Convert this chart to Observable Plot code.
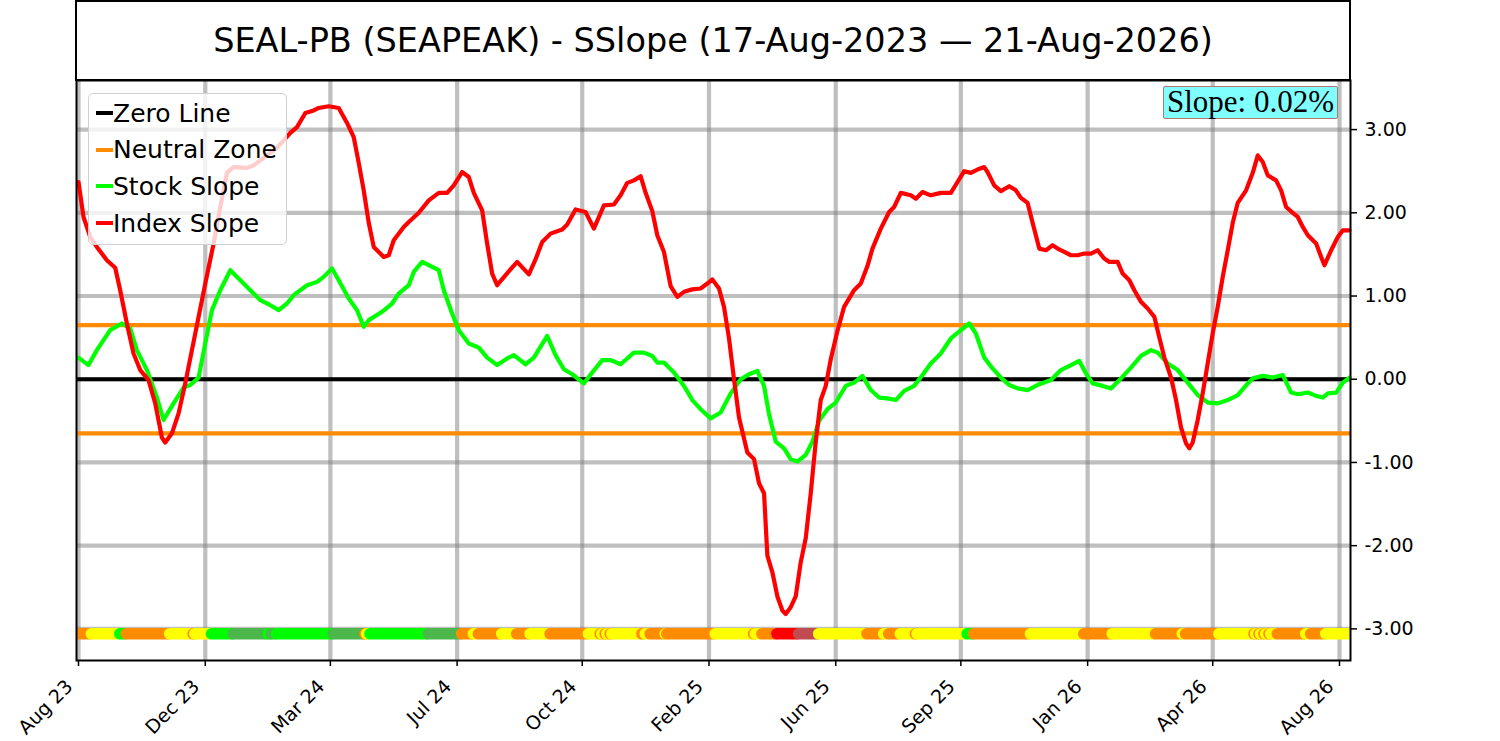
<!DOCTYPE html>
<html>
<head>
<meta charset="utf-8">
<script src="https://cdn.jsdelivr.net/npm/d3@7"></script>
<script src="https://cdn.jsdelivr.net/npm/@observablehq/plot@0.6"></script>
<style>
  html, body { margin: 0; padding: 0; background: #fff; }
  #wrap { position: relative; width: 1500px; height: 741px; overflow: hidden; font-family: "DejaVu Sans", sans-serif; }
  #title { position: absolute; left: 75px; top: 0; width: 1276px; height: 81px; box-sizing: border-box;
           border: 2px solid #000; display: flex; align-items: center; justify-content: center;
           font-size: 33.5px; color: #000; background: #fff; }
  #chart { position: absolute; left: 0; top: 80px; }
  #legend { position: absolute; left: 88px; top: 93px; width: 199px; height: 152px; box-sizing: border-box;
            border: 1.5px solid #d0d0d0; border-radius: 5px; background: rgba(255,255,255,0.8); }
  .row { position: absolute; left: 7px; height: 30px; display: flex; align-items: center; font-size: 25px; color: #000; white-space: nowrap; }
  .sw { width: 17px; height: 4px; }
  #slope { position: absolute; left: 1163px; top: 86px; width: 175px; height: 33px; box-sizing: border-box;
           background: #80ffff; border: 1.5px solid #b07676; border-radius: 2px;
           font-family: "Liberation Serif", serif; font-size: 31px; line-height: 29px; text-align: center; color: #000; white-space: nowrap; }
</style>
</head>
<body>
<div id="wrap">
  <div id="chart"></div>
  <div id="title">SEAL-PB (SEAPEAK) - SSlope (17-Aug-2023 — 21-Aug-2026)</div>
  <div id="legend"></div>
  <div id="slope">Slope: 0.02%</div>
</div>
<script>
// ---- x axis ticks (trading-day index) ----
const tickIdx = [0, 76, 151, 227, 302, 378, 454, 529, 605, 680, 756];
const tickLabels = ["Aug 23", "Dec 23", "Mar 24", "Jul 24", "Oct 24", "Feb 25", "Jun 25", "Sep 25", "Jan 26", "Apr 26", "Aug 26"];
const yTicks = [-3, -2, -1, 0, 1, 2, 3];

// ---- reference lines ----
const zeroLine = 0;
const neutralZone = [0.65, -0.65];

// ---- Index Slope (red) ----
const redIdx = [0,3,7,11,17,22,25,29,33,37,42,46,50,52,56,60,64,68,72,76,81,85,89,93,101,105,111,119,127,131,136,141,144,150,156,161,165,168,171,174,177,183,186,189,195,198,204,210,216,221,225,230,234,237,242,245,248,251,253,259,263,270,274,278,283,290,293,298,304,309,315,321,325,329,333,337,340,344,347,351,355,359,363,368,373,377,380,384,387,390,393,396,401,405,408,411,413,416,419,422,424,427,430,433,436,439,442,445,448,451,455,459,465,469,473,476,481,486,489,493,499,502,506,511,517,523,527,531,535,539,543,545,549,553,558,562,565,569,572,576,580,584,587,591,595,599,603,607,611,615,618,623,626,630,633,637,641,645,648,651,655,658,661,664,666,668,671,674,677,680,683,686,689,692,695,700,704,707,710,713,718,721,724,728,731,734,737,742,745,747,751,755,758,762];
const redVal = [2.37,1.95,1.71,1.59,1.43,1.34,1.07,0.67,0.31,0.11,-0.01,-0.29,-0.70,-0.76,-0.65,-0.41,-0.05,0.35,0.75,1.15,1.63,2.07,2.48,2.55,2.54,2.57,2.66,2.78,2.96,3.03,3.20,3.23,3.26,3.28,3.26,3.08,2.91,2.60,2.27,1.88,1.59,1.47,1.49,1.67,1.83,1.89,2.00,2.15,2.24,2.24,2.33,2.49,2.43,2.24,2.03,1.63,1.27,1.13,1.18,1.32,1.41,1.26,1.44,1.65,1.75,1.80,1.86,2.04,2.01,1.81,2.09,2.10,2.21,2.36,2.39,2.44,2.24,2.02,1.73,1.53,1.12,0.99,1.05,1.08,1.09,1.15,1.20,1.09,0.87,0.49,0.00,-0.46,-0.88,-0.96,-1.25,-1.37,-2.12,-2.32,-2.61,-2.78,-2.82,-2.74,-2.61,-2.20,-1.91,-1.37,-0.75,-0.25,-0.08,0.24,0.58,0.87,1.07,1.15,1.36,1.57,1.81,2.01,2.07,2.24,2.21,2.17,2.25,2.21,2.24,2.24,2.37,2.50,2.48,2.52,2.55,2.49,2.33,2.26,2.32,2.27,2.18,2.12,1.88,1.57,1.55,1.61,1.57,1.53,1.49,1.49,1.51,1.51,1.55,1.45,1.41,1.41,1.27,1.19,1.07,0.93,0.85,0.75,0.50,0.26,0.02,-0.25,-0.58,-0.77,-0.83,-0.76,-0.49,-0.17,0.19,0.55,0.87,1.23,1.55,1.88,2.12,2.27,2.48,2.69,2.61,2.45,2.39,2.27,2.07,2.00,1.95,1.83,1.73,1.63,1.47,1.37,1.55,1.71,1.79,1.79];

// ---- Stock Slope (green) ----
const greenIdx = [0,6,11,19,26,31,35,41,47,51,57,63,67,72,76,80,85,91,97,103,109,115,120,125,129,137,143,147,152,156,162,167,171,174,182,188,192,198,201,206,210,216,219,224,228,234,240,245,251,257,261,268,273,281,286,291,296,303,308,314,319,325,333,339,344,347,351,357,363,368,373,379,385,391,397,402,407,411,414,418,423,427,431,436,440,444,449,454,460,465,470,475,480,485,490,495,501,506,511,517,523,529,534,538,543,548,553,558,563,569,576,583,589,595,600,604,608,614,619,625,631,637,643,647,653,659,665,671,677,683,689,695,701,704,710,716,722,727,731,737,742,746,749,754,758,762];
const greenVal = [0.26,0.17,0.35,0.59,0.67,0.61,0.35,0.11,-0.22,-0.49,-0.29,-0.10,-0.07,0.02,0.43,0.83,1.07,1.31,1.19,1.07,0.95,0.89,0.83,0.91,1.01,1.13,1.17,1.23,1.33,1.19,0.97,0.83,0.63,0.71,0.81,0.91,1.03,1.13,1.29,1.41,1.37,1.31,1.07,0.79,0.59,0.43,0.38,0.26,0.17,0.25,0.29,0.18,0.26,0.52,0.29,0.12,0.06,-0.05,0.08,0.23,0.23,0.18,0.32,0.32,0.28,0.20,0.20,0.08,-0.08,-0.25,-0.36,-0.47,-0.40,-0.17,0.00,0.06,0.10,-0.08,-0.42,-0.75,-0.83,-0.96,-0.99,-0.91,-0.75,-0.50,-0.36,-0.28,-0.08,-0.04,0.04,-0.13,-0.22,-0.23,-0.25,-0.14,-0.08,0.05,0.19,0.31,0.49,0.59,0.67,0.55,0.26,0.13,0.02,-0.07,-0.11,-0.13,-0.06,-0.01,0.11,0.17,0.22,0.07,-0.05,-0.08,-0.11,0.01,0.14,0.28,0.35,0.32,0.19,0.11,-0.04,-0.19,-0.28,-0.29,-0.25,-0.19,-0.05,0.01,0.04,0.02,0.05,-0.16,-0.18,-0.16,-0.20,-0.22,-0.17,-0.16,-0.04,0.02];

// ---- signal band along the bottom: first index of each run, and its state ----
const bandStart = [0,8,25,29,55,69,70,80,93,114,116,119,153,172,173,175,210,230,237,240,254,263,271,283,306,313,314,316,317,319,320,338,340,343,352,353,382,405,406,410,419,432,444,473,483,486,493,502,503,533,537,571,603,620,646,662,664,684,705,706,708,709,711,712,714,715,719,736,739,748];
const bandState = ["O","Y","G","O","Y","O","Y","G","D","G","D","G","D","O","Y","G","D","O","Y","O","Y","O","Y","O","Y","O","Y","O","Y","O","Y","O","Y","O","Y","O","Y","O","Y","O","R","B","Y","O","Y","O","Y","O","Y","G","O","Y","O","Y","O","Y","O","Y","O","Y","O","Y","O","Y","O","Y","O","Y","O","Y"];
const bandLastIdx = 762;
const bandLevel = -3.06;

const stateColor = {O: "#ff8c00", Y: "#ffff00", G: "#00ff00", D: "#4cb84c", R: "#ff0000", B: "#c04b50"};

const red = redIdx.map((x, i) => ({x, y: redVal[i]}));
const green = greenIdx.map((x, i) => ({x, y: greenVal[i]}));
const band = bandStart.map((s, i) => ({
  x1: s,
  x2: Math.max(i < bandStart.length - 1 ? bandStart[i + 1] - 1 : bandLastIdx, s + 0.3),
  c: stateColor[bandState[i]]
}));
const labelOf = new Map(tickIdx.map((t, i) => [t, tickLabels[i]]));

const chart = Plot.plot({
  width: 1500,
  height: 661,
  marginLeft: 76,
  marginRight: 150,
  marginTop: 0,
  marginBottom: 81,
  style: {fontFamily: "DejaVu Sans, sans-serif", fontSize: "19px", color: "#000", background: "transparent", overflow: "visible"},
  x: {domain: [-1.2, 762.6]},
  y: {domain: [-3.38, 3.59]},
  marks: [
    Plot.gridX(tickIdx, {stroke: "#808080", strokeOpacity: 0.5, strokeWidth: 4.2}),
    Plot.gridY(yTicks, {stroke: "#808080", strokeOpacity: 0.5, strokeWidth: 4.2}),
    Plot.ruleY([zeroLine], {stroke: "#000", strokeWidth: 4.2}),
    Plot.ruleY(neutralZone, {stroke: "#ff8c00", strokeWidth: 4.2}),
    Plot.line(green, {x: "x", y: "y", stroke: "#00ff00", strokeWidth: 4.2, curve: "linear"}),
    Plot.line(red, {x: "x", y: "y", stroke: "#ff0000", strokeWidth: 4.2, curve: "linear"}),
    Plot.ruleY(band, {y: () => bandLevel, x1: "x1", x2: "x2", stroke: "c", strokeWidth: 11.5, strokeLinecap: "round", clip: true}),
    Plot.frame({stroke: "#000", strokeWidth: 2}),
    // tick marks only
    Plot.axisX(tickIdx, {anchor: "bottom", tickFormat: () => "", tickSize: 6, strokeWidth: 1.5, label: null}),
    // rotated tick labels
    Plot.axisX(tickIdx, {anchor: "bottom", tickFormat: d => labelOf.get(d), tickRotate: -45, tickSize: 0, tickPadding: 23, dx: -9, fontSize: 19, label: null}),
    Plot.axisY(yTicks, {anchor: "right", tickFormat: d => d.toFixed(2), tickSize: 6, tickPadding: 8, fontSize: 19, strokeWidth: 1.5, label: null})
  ]
});
document.getElementById("chart").appendChild(chart);

// ---- legend ----
const legendNames = ["Zero Line", "Neutral Zone", "Stock Slope", "Index Slope"];
const legendColors = ["#000000", "#ff8c00", "#00ff00", "#ff0000"];
const legend = document.getElementById("legend");
legendNames.forEach((name, i) => {
  const row = document.createElement("div");
  row.className = "row";
  row.style.top = (4 + i * 36.7) + "px";
  const sw = document.createElement("span");
  sw.className = "sw";
  sw.style.background = legendColors[i];
  const tx = document.createElement("span");
  tx.textContent = name;
  row.appendChild(sw);
  row.appendChild(tx);
  legend.appendChild(row);
});
</script>
</body>
</html>
